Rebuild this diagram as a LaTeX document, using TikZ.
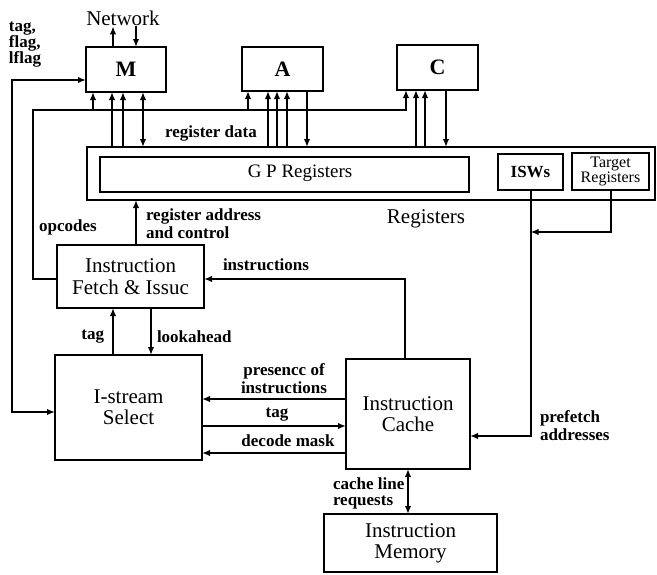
\documentclass[tikz,border=0pt]{standalone}
\usepackage{fontspec}
\setmainfont{Liberation Serif}
\usetikzlibrary{arrows.meta,calc}
\begin{document}
\begin{tikzpicture}[x=1pt,y=-1pt,
  line width=2pt,
  >={Latex[length=8pt,width=6.5pt]},
  box/.style={draw, line width=2.2pt, inner sep=0pt, outer sep=0pt, align=center,
    font=\fontsize{21}{21}\selectfont},
  unitbox/.style={box, font=\bfseries\fontsize{22}{22}\selectfont},
  lbl/.style={inner sep=0pt, outer sep=0pt, align=left,
    font=\bfseries\fontsize{17}{17}\selectfont}]
\useasboundingbox (0,0) rectangle (657,574);

% units
\node[unitbox, minimum width=80pt, minimum height=45pt] (M) at (126,69.5) {M};
\node[unitbox, minimum width=81pt, minimum height=44pt] (A) at (282.5,69) {A};
\node[unitbox, minimum width=81pt, minimum height=45pt] (C) at (437.5,67.5) {C};

% registers
\node[box, minimum width=568pt, minimum height=53pt] (regs) at (371,173.5) {};
\node[box, minimum width=369pt, minimum height=35pt] (GP) at (284.5,174.5) {};
\node[inner sep=0pt, font=\fontsize{19}{19}\selectfont] (gpl) at (300,173) {G P Registers};
\node[box, minimum width=65pt, minimum height=36pt, font=\bfseries\fontsize{17}{17}\selectfont] (ISW) at (530.5,172) {ISWs};
\node[box, minimum width=77pt, minimum height=37pt, font=\fontsize{16}{14}\selectfont] (TR) at (610.5,171.5) {Target\\Registers};
\node[inner sep=0pt, font=\fontsize{21}{21}\selectfont] (reglbl) at (426,219) {Registers};

% main boxes
\node[box, minimum width=147pt, minimum height=63pt, font=\fontsize{21}{22}\selectfont] (Fetch) at (130.5,276.5) {Instruction\\Fetch \& Issuc};
\node[box, minimum width=147pt, minimum height=105pt] (Isel) at (128.5,407.5) {I-stream\\Select};
\node[box, minimum width=124pt, minimum height=110pt] (Cache) at (408,414) {Instruction\\Cache};
\node[box, minimum width=173pt, minimum height=58pt] (Mem) at (410.5,543) {Instruction\\Memory};

% Network
\node[inner sep=0pt, font=\fontsize{21}{21}\selectfont] (net) at (123,18) {Network};
\draw[->] ([xshift=-13pt]M.north) -- ([xshift=-13pt]M.north |- net.south);
\draw[<-] ([xshift=10pt]M.north) -- ([xshift=10pt]M.north |- net.south);

% tag, flag, lflag
\node[lbl, anchor=west, font=\bfseries\fontsize{17}{16}\selectfont] (tfl) at (9,45) {tag,\\flag,\\lflag};
\draw[<->] ([yshift=-10.5pt]M.west) -- ++(-74,0) |- ([yshift=-4.5pt]Isel.west);

% opcodes bus
\coordinate (opc) at (33,110);
\draw[->] ([yshift=-2.5pt]Fetch.west) -| (opc) -| ([xshift=9pt]C.south west);
\draw[->] ([xshift=7pt]M.south west |- opc) -- ([xshift=7pt]M.south west);
\draw[->] ([xshift=6pt]A.south west |- opc) -- ([xshift=6pt]A.south west);
\node[lbl] (opl) at (68,227) {opcodes};

% M <-> registers
\draw[->] ([xshift=26pt]M.south west |- regs.north) -- ([xshift=26pt]M.south west);
\draw[->] ([xshift=37pt]M.south west |- regs.north) -- ([xshift=37pt]M.south west);
\draw[<->] ([xshift=57pt]M.south west) -- ([xshift=57pt]M.south west |- regs.north);

% A <-> registers
\draw[->] ([xshift=26pt]A.south west |- regs.north) -- ([xshift=26pt]A.south west);
\draw[->] ([xshift=35pt]A.south west |- regs.north) -- ([xshift=35pt]A.south west);
\draw[->] ([xshift=45pt]A.south west |- regs.north) -- ([xshift=45pt]A.south west);
\draw[->] ([xshift=65pt]A.south west) -- ([xshift=65pt]A.south west |- regs.north);

% C <-> registers
\draw[->] ([xshift=19pt]C.south west |- regs.north) -- ([xshift=19pt]C.south west);
\draw[->] ([xshift=28pt]C.south west |- regs.north) -- ([xshift=28pt]C.south west);
\draw[->] ([xshift=49pt]C.south west) -- ([xshift=49pt]C.south west |- regs.north);

\node[lbl] (rdl) at (211,133) {register data};

% register address and control
\draw[->] ([xshift=5.5pt]Fetch.north) -- ([xshift=5.5pt]Fetch.north |- regs.south);
\node[lbl, anchor=west, font=\bfseries\fontsize{17}{18}\selectfont] (ral) at (146,224) {register address\\and control};

% instructions
\draw[->] ([xshift=-3pt]Cache.north) |- ([yshift=-2.5pt]Fetch.east);
\node[lbl] (insl) at (266,265) {instructions};

% tag / lookahead
\draw[->] ([xshift=-15.5pt]Isel.north) -- ([xshift=-15.5pt]Isel.north |- Fetch.south);
\draw[->] ([xshift=22.5pt]Isel.north |- Fetch.south) -- ([xshift=22.5pt]Isel.north);
\node[lbl, anchor=east] (tagl) at (104,337) {tag};
\node[lbl, anchor=west] (lal) at (157,337) {lookahead};

% Isel <-> Cache
\draw[->] ([yshift=15pt]Cache.west) -- ([yshift=15pt]Cache.west -| Isel.east);
\draw[->] ([yshift=-12pt]Cache.west -| Isel.east) -- ([yshift=-12pt]Cache.west);
\draw[->] ([yshift=-39pt]Cache.west) -- ([yshift=-39pt]Cache.west -| Isel.east);
\node[lbl, align=center, font=\bfseries\fontsize{17}{18}\selectfont] (presl) at (284,379) {presencc of\\instructions};
\node[lbl] (tag2l) at (277,415) {tag};
\node[lbl] (dml) at (288,441) {decode mask};

% prefetch addresses
\draw[->] (ISW.south) |- ([yshift=-22pt]Cache.east);
\draw[->] (TR.south) |- ($(ISW.south)+(0,42)$);
\node[lbl, anchor=west, font=\bfseries\fontsize{17}{18}\selectfont] (pfl) at (540,426) {prefetch\\addresses};

% cache line requests
\draw[<->] (Cache.south) -- (Cache.south |- Mem.north);
\node[lbl, anchor=west, font=\bfseries\fontsize{17}{16}\selectfont] (cll) at (333,493) {cache line\\requests};
\end{tikzpicture}
\end{document}
